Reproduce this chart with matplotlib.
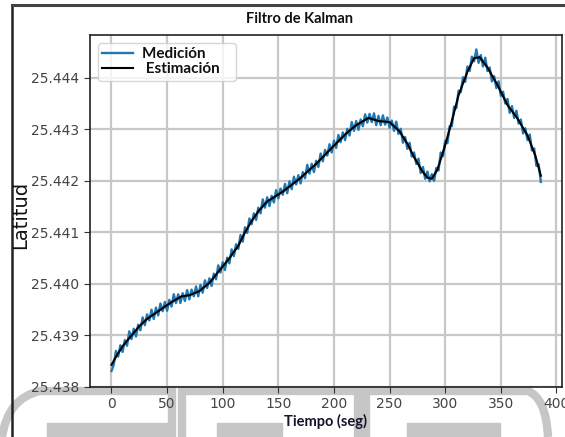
import matplotlib.pyplot as plt
import numpy as np
from matplotlib.path import Path
from matplotlib.patches import PathPatch, Rectangle
from matplotlib.lines import Line2D

# sampling times of the GPS fixes (s)
tiempo = np.arange(0, 388, 2)

# raw latitude readings
medicion = [
    25.43831, 25.43843, 25.43870, 25.43859, 25.43881, 25.43868, 25.43891, 25.43880, 25.43908, 25.43893,
    25.43913, 25.43898, 25.43921, 25.43910, 25.43935, 25.43920, 25.43941, 25.43929, 25.43950, 25.43932,
    25.43954, 25.43939, 25.43962, 25.43947, 25.43965, 25.43948, 25.43969, 25.43956, 25.43980, 25.43963,
    25.43980, 25.43963, 25.43982, 25.43967, 25.43988, 25.43970, 25.43989, 25.43976, 25.43995, 25.43976,
    25.43998, 25.43983, 25.44007, 25.43992, 25.44011, 25.43996, 25.44020, 25.44009, 25.44036, 25.44022,
    25.44042, 25.44027, 25.44051, 25.44040, 25.44067, 25.44054, 25.44077, 25.44068, 25.44095, 25.44082,
    25.44110, 25.44099, 25.44127, 25.44116, 25.44137, 25.44124, 25.44148, 25.44137, 25.44164, 25.44148,
    25.44168, 25.44151, 25.44171, 25.44158, 25.44182, 25.44166, 25.44185, 25.44173, 25.44194, 25.44176,
    25.44199, 25.44184, 25.44208, 25.44193, 25.44211, 25.44195, 25.44217, 25.44205, 25.44231, 25.44214,
    25.44233, 25.44217, 25.44239, 25.44227, 25.44253, 25.44238, 25.44260, 25.44249, 25.44271, 25.44255,
    25.44278, 25.44264, 25.44289, 25.44275, 25.44294, 25.44279, 25.44301, 25.44288, 25.44314, 25.44297,
    25.44316, 25.44299, 25.44319, 25.44306, 25.44329, 25.44313, 25.44330, 25.44314, 25.44331, 25.44308,
    25.44326, 25.44308, 25.44327, 25.44309, 25.44323, 25.44303, 25.44317, 25.44297, 25.44315, 25.44291,
    25.44301, 25.44274, 25.44285, 25.44262, 25.44274, 25.44247, 25.44255, 25.44233, 25.44243, 25.44215,
    25.44227, 25.44204, 25.44218, 25.44199, 25.44213, 25.44200, 25.44225, 25.44220, 25.44255, 25.44248,
    25.44278, 25.44273, 25.44306, 25.44306, 25.44344, 25.44341, 25.44375, 25.44372, 25.44401, 25.44392,
    25.44422, 25.44413, 25.44441, 25.44432, 25.44455, 25.44429, 25.44444, 25.44422, 25.44439, 25.44413,
    25.44420, 25.44393, 25.44403, 25.44380, 25.44393, 25.44365, 25.44373, 25.44350, 25.44359, 25.44332,
    25.44345, 25.44322, 25.44336, 25.44311, 25.44319, 25.44292, 25.44302, 25.44279, 25.44290, 25.44259,
    25.44263, 25.44229, 25.44232, 25.44198,
]

# Kalman filter output
t_est = [0, 5, 10, 18, 25, 32, 40, 48, 55, 63, 70, 79, 88, 97, 106, 114, 120, 126,
         132, 140, 154, 169, 184, 199, 211, 220, 231, 240, 250, 259, 266, 272, 279,
         284, 288, 293, 299, 305, 312, 320, 326, 331, 338, 347, 356, 365, 374, 381, 386]
estimacion = [25.43843, 25.43862, 25.43879, 25.43900, 25.43918, 25.43932, 25.43944,
              25.43956, 25.43966, 25.43976, 25.43978, 25.43986, 25.44002, 25.44026,
              25.44050, 25.44074, 25.44100, 25.44122, 25.44141, 25.44160, 25.44179,
              25.44204, 25.44233, 25.44266, 25.44292, 25.44308, 25.44322, 25.44316,
              25.44314, 25.44296, 25.44272, 25.44246, 25.44220, 25.44206, 25.44204,
              25.44222, 25.44262, 25.44308, 25.44366, 25.44412, 25.44438, 25.44440,
              25.44420, 25.44386, 25.44347, 25.44321, 25.44288, 25.44249, 25.44210]

W, H = 565, 437


def px(x, y):
    return (x / W, 1 - y / H)


fig = plt.figure(figsize=(W / 100, H / 100), dpi=100)

# grey logo shapes at the bottom of the page
gris = '#c6c6c6'
trazos = [
    ([(2, 437), (8, 398), (40, 391), (172, 391), (172, 437)],
     [Path.MOVETO, Path.CURVE3, Path.CURVE3, Path.LINETO, Path.LINETO]),
    ([(182, 437), (182, 391), (358, 391), (358, 437)],
     [Path.MOVETO, Path.LINETO, Path.LINETO, Path.LINETO]),
    ([(366, 437), (366, 391), (528, 391), (546, 398), (548, 437)],
     [Path.MOVETO, Path.LINETO, Path.LINETO, Path.CURVE3, Path.CURVE3]),
]
for pts, codes in trazos:
    p = Path([px(*q) for q in pts], codes)
    fig.add_artist(PathPatch(p, fill=False, edgecolor=gris, lw=6,
                             transform=fig.transFigure, zorder=-2))
for x0, x1 in [(47, 168), (217, 282), (407, 500)]:
    fig.add_artist(Rectangle(px(x0, 437), (x1 - x0) / W, 14 / H, color=gris,
                             transform=fig.transFigure, zorder=-2))

# page frame
fig.add_artist(Line2D([12 / W, 12 / W], [0, 1 - 5 / H], color='#222222', lw=1.8,
                      transform=fig.transFigure))
fig.add_artist(Line2D([12 / W, 1], [1 - 5 / H, 1 - 5 / H], color='#444444', lw=2.2,
                      transform=fig.transFigure))

ax = fig.add_axes([90 / W, 1 - 387 / H, 472 / W, 352 / H])
ax.plot(tiempo, medicion, color='#1f77b4', lw=1.7, label='Medición     ')
ax.plot(t_est, estimacion, color='black', lw=1.5, label=' Estimación   ')

ax.set_xlim(-19.3, 405)
ax.set_ylim(25.438, 25.44483)
ax.set_xticks(np.arange(0, 401, 50))
ax.set_yticks([25.438, 25.439, 25.440, 25.441, 25.442, 25.443, 25.444])
ax.yaxis.set_major_formatter(plt.FormatStrFormatter('%.3f'))
ax.tick_params(labelsize=10, labelcolor='#444444', color='#333333', length=4)
ax.grid(True, color='#c8c8c8', lw=1.6)
ax.set_axisbelow(True)
for s in ax.spines.values():
    s.set_color('#222222')
    s.set_linewidth(1.2)

fig.text(300 / W, 1 - 19 / H, 'Filtro de Kalman', family='Lato', weight='bold',
         fontsize=10.5, ha='center', va='center', color='#111111')
ax.set_xlabel('Tiempo (seg)', family='Lato', weight='bold', fontsize=10.5,
              color='#14142a', labelpad=2)
fig.text(21 / W, 1 - 215 / H, 'Latitud', rotation=90, fontsize=14,
         ha='center', va='center', color='#111111')

leg = ax.legend(loc='upper left', prop={'family': 'Lato', 'weight': 'bold', 'size': 11},
                handlelength=2.0, borderpad=0.3, labelspacing=0.05,
                handletextpad=0.6, fancybox=True, framealpha=0.8)
leg.get_frame().set_edgecolor('#cccccc')
for t in leg.get_texts():
    t.set_color('#111111')

fig.savefig('out.png', dpi=100)
